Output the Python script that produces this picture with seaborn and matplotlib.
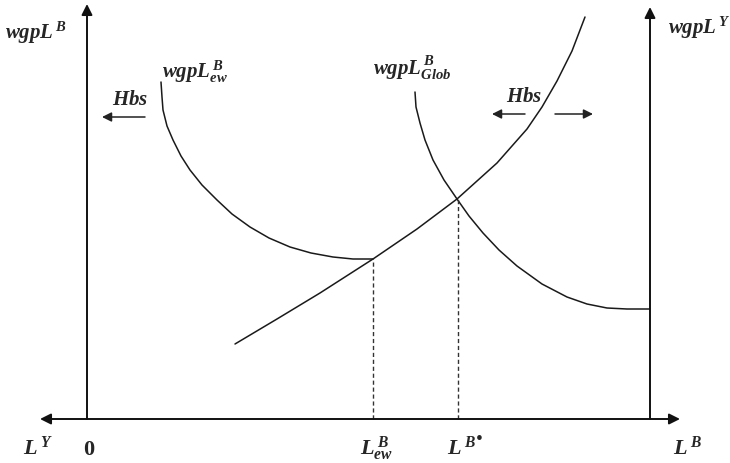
import matplotlib
matplotlib.use("Agg")
import matplotlib.pyplot as plt
import seaborn as sns
import pandas as pd

# labour of type B on the horizontal axis, wage gap (wgp) on the vertical axis
supply_L = [148, 190, 233, 286, 330, 370, 410, 440, 455, 470, 485, 498]
supply_w = [75, 100, 126, 160, 190, 220, 256, 290, 312, 338, 368, 402]

ew_L = [74, 75, 76, 80, 86, 94, 103, 115, 130, 145, 163, 182, 203, 224, 246, 266, 286]
ew_w = [337, 322, 309, 293, 279, 263, 249, 234, 219, 205, 192, 181, 172, 166, 162, 160, 160]

glob_L = [328, 329, 333, 338, 346, 357, 370, 382, 396, 412, 430, 455, 480, 500, 520, 540, 563]
glob_w = [327, 312, 296, 279, 259, 239, 220, 203, 186, 169, 153, 135, 122, 115, 111, 110, 110]

# equilibrium points (L, w)
eq_ew = (286, 160)
eq_glob = (371, 220)

# box: right axis position and frame limits
L_right = 563
x_lim = (-87, 643)
y_lim = (-44, 419)

df = pd.concat([
    pd.DataFrame({"L": supply_L, "w": supply_w, "curve": "supply"}),
    pd.DataFrame({"L": ew_L, "w": ew_w, "curve": "ew"}),
    pd.DataFrame({"L": glob_L, "w": glob_w, "curve": "glob"}),
])

sns.set_theme(style="white")
plt.rcParams["mathtext.fontset"] = "custom"
plt.rcParams["mathtext.it"] = "Liberation Serif:italic:bold"
plt.rcParams["mathtext.rm"] = "Liberation Serif:bold"
plt.rcParams["mathtext.bf"] = "Liberation Serif:bold"
plt.rcParams["font.family"] = ["Liberation Serif", "DejaVu Serif"]

fig = plt.figure(figsize=(7.3, 4.63), dpi=100)
ax = fig.add_axes([0, 0, 1, 1])
ax.set_xlim(*x_lim)
ax.set_ylim(*y_lim)
ax.axis("off")

sns.lineplot(data=df, x="L", y="w", units="curve", estimator=None, sort=False,
             color="#1a1a1a", lw=1.1, ax=ax, legend=False)

# dashed drop lines
for L, w in (eq_ew, eq_glob):
    ax.plot([L, L], [0, w], color="#333333", lw=1.0, ls=(0, (3, 2)))

# axes with arrow heads
ap = dict(arrowstyle="-|>", color="#111111", lw=1.4, mutation_scale=16, shrinkA=0, shrinkB=0)
ax.annotate("", xy=(-47, 0), xytext=(0, 0), arrowprops=ap)
ax.annotate("", xy=(593, 0), xytext=(0, 0), arrowprops=ap)
ax.annotate("", xy=(0, 415), xytext=(0, 0), arrowprops=ap)
ax.annotate("", xy=(L_right, 412), xytext=(L_right, 0), arrowprops=ap)

# Hbs shift arrows
hp = dict(arrowstyle="-|>", color="#222222", lw=1.1, mutation_scale=14, shrinkA=0, shrinkB=0)
ax.annotate("", xy=(15, 302), xytext=(58, 302), arrowprops=hp)
ax.annotate("", xy=(405, 305), xytext=(438, 305), arrowprops=hp)
ax.annotate("", xy=(506, 305), xytext=(468, 305), arrowprops=hp)

fs = 15
ax.text(43, 314, r"$Hbs$", fontsize=fs, ha="center", va="baseline")
ax.text(437, 317, r"$Hbs$", fontsize=fs, ha="center", va="baseline")

ax.text(-82, 380, r"$wgpL^{\,B}$", fontsize=fs, ha="left", va="baseline")
ax.text(581, 385, r"$wgpL^{\,Y}$", fontsize=fs, ha="left", va="baseline")
ax.text(75, 341, r"$wgpL^{\,B}_{ew}$", fontsize=fs, ha="left", va="baseline")
ax.text(286, 344, r"$wgpL^{\,B}_{Glob}$", fontsize=fs, ha="left", va="baseline")

ax.text(-64, -36, r"$L^{\,Y}$", fontsize=fs + 1, ha="left", va="baseline")
ax.text(2, -36, r"$\mathbf{0}$", fontsize=fs + 1, ha="center", va="baseline")
ax.text(273, -36, r"$L^{\,B}_{ew}$", fontsize=fs + 1, ha="left", va="baseline")
ax.text(360, -36, r"$L^{\,B}$", fontsize=fs + 1, ha="left", va="baseline")
ax.text(389, -25, "\u2022", fontsize=14, ha="left", va="baseline")
ax.text(586, -36, r"$L^{\,B}$", fontsize=fs + 1, ha="left", va="baseline")

fig.savefig("out.png", dpi=100, facecolor="white")
